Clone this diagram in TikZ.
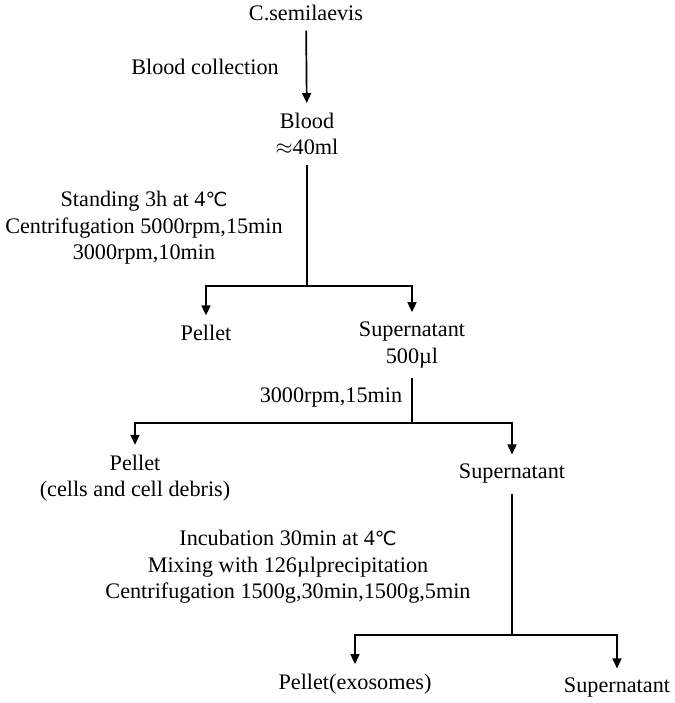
\documentclass[tikz,border=0pt]{standalone}
\usepackage{fontspec}
\setmainfont{Liberation Serif}
\newfontfamily\degfont{DejaVu Sans}
\newcommand{\degC}{{\degfont\fontsize{9.7}{11}\selectfont ℃}}
\usepackage{tikz}
\usetikzlibrary{arrows.meta}

\begin{document}
\begin{tikzpicture}[x=0.5pt,y=-0.5pt,line width=0.85pt,every node/.style={inner sep=4.5pt,align=center,font=\fontsize{11.1}{13.3}\selectfont},arr/.style={-{Triangle[length=5pt,width=4.5pt]}}]
	
	\useasboundingbox (0,0) rectangle (675,703);
	
	\node (sem) at (306,13) {C.semilaevis};
	\node (col) at (205,67) {Blood collection};
	\node (blood) at (307,134) {Blood\\$\approx$40ml};
	\node (cond1) at (144,228) {Standing 3h at 4\degC\\Centrifugation 5000rpm,15min\\3000rpm,10min};
	\coordinate (s1) at (307,286);
	\node (pel1) at (206,333) {Pellet};
	\node (sup1) at (412,345) {Supernatant\\500µl};
	\node (cond2) at (331,397) {3000rpm,15min};
	\coordinate (s2) at (412,423);
	\node (pel2) at (135,478) {Pellet\\(cells and cell debris)};
	\node (sup2) at (512,474) {Supernatant};
	\node (cond3) at (288,567) {Incubation 30min at 4\degC\\Mixing with 126µlprecipitation\\Centrifugation 1500g,30min,1500g,5min};
	\coordinate (s3) at (512,635);
	\node (pel3) at (355,684) {Pellet(exosomes)};
	\node (sup3) at (617,688) {Supernatant};
	
	\draw[arr] (sem) -- (blood);
	\draw (blood) -- (s1);
	\draw[arr] (s1) -| (pel1);
	\draw[arr] (s1) -| (sup1);
	\draw (sup1) -- (s2);
	\draw[arr] (s2) -| (pel2);
	\draw[arr] (s2) -| (sup2);
	\draw (sup2) -- (s3);
	\draw[arr] (s3) -| (pel3);
	\draw[arr] (s3) -| (sup3);
	
\end{tikzpicture}
\end{document}
